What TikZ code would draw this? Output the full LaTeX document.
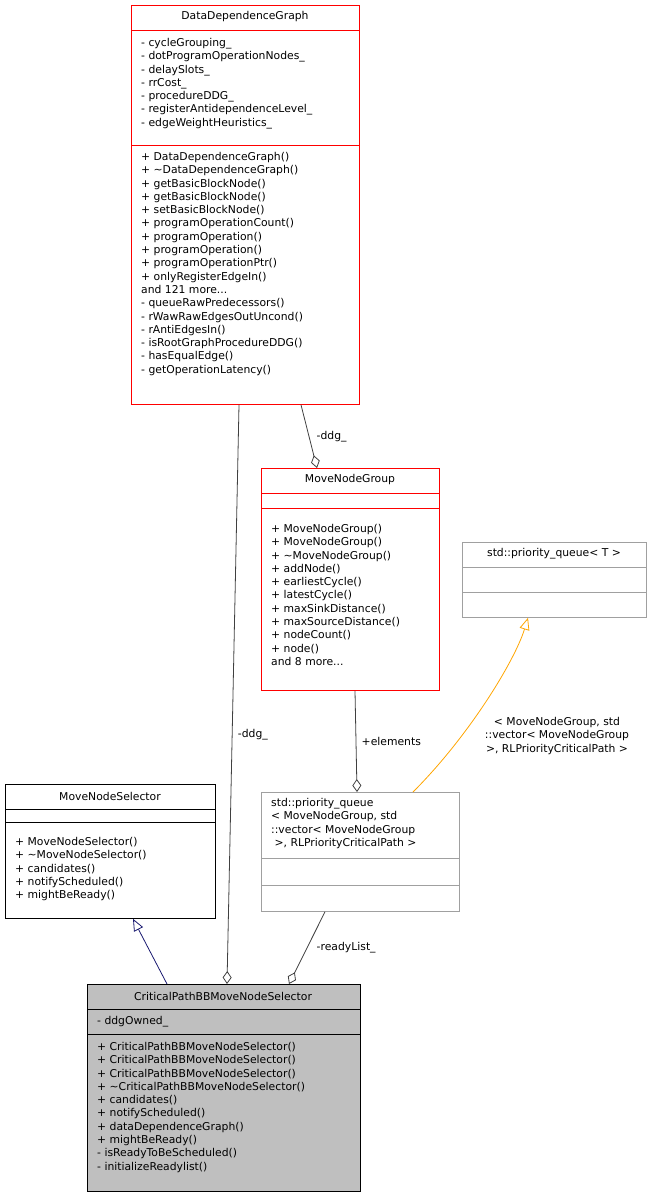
\documentclass[tikz,border=0pt]{standalone}
\usepackage{fontspec}
\setmainfont{DejaVu Sans}
\usetikzlibrary{arrows.meta,positioning,calc}
\definecolor{clsred}{HTML}{FF0000}
\definecolor{clsgray}{HTML}{A0A0A0}
\definecolor{cpgray}{HTML}{BFBFBF}
\definecolor{inhnavy}{HTML}{191970}
\definecolor{tplorange}{HTML}{FFA500}
\definecolor{edgegray}{HTML}{404040}

\begin{document}
\begin{tikzpicture}[
  x=1pt,y=-1pt,
  every node/.style={font=\fontsize{10.8}{13.3}\selectfont},
  box/.style 2 args={
    draw=#1, fill=#2, rectangle, anchor=north west, inner sep=0pt,
    line width=0.8pt},
  txt/.style={anchor=north west, align=left, inner sep=0pt},
  ttl/.style={anchor=center, inner sep=0pt},
  use/.style={draw=edgegray, line width=0.8pt,
    -{Diamond[open,length=13pt,width=9pt]}},
  inh/.style={draw=inhnavy, line width=0.8pt,
    -{Triangle[open,length=12pt,width=10pt]}},
  tpl/.style={draw=tplorange, line width=0.8pt,
    -{Triangle[open,length=12pt,width=10pt]}},
]
  \useasboundingbox (0,0) rectangle (653,1197);

  % DataDependenceGraph
  \node[box={clsred}{white},minimum width=228pt,minimum height=399pt] (ddg) at (131,5) {};
  \draw[clsred,line width=0.8pt] (131,30) -- (359,30) (131,145) -- (359,145);
  \node[ttl] (ddgT) at (245,17) {DataDependenceGraph};
  \node[txt] (ddgA) at (141,38) {- cycleGrouping\_\\- dotProgramOperationNodes\_\\- delaySlots\_\\- rrCost\_\\- procedureDDG\_\\- registerAntidependenceLevel\_\\- edgeWeightHeuristics\_};
  \node[txt] (ddgM) at (141,152) {+ DataDependenceGraph()\\+ \textasciitilde DataDependenceGraph()\\+ getBasicBlockNode()\\+ getBasicBlockNode()\\+ setBasicBlockNode()\\+ programOperationCount()\\+ programOperation()\\+ programOperation()\\+ programOperationPtr()\\+ onlyRegisterEdgeIn()\\and 121 more...\\- queueRawPredecessors()\\- rWawRawEdgesOutUncond()\\- rAntiEdgesIn()\\- isRootGraphProcedureDDG()\\- hasEqualEdge()\\- getOperationLatency()};

  % MoveNodeGroup
  \node[box={clsred}{white},minimum width=178pt,minimum height=222pt] (mng) at (261,468) {};
  \draw[clsred,line width=0.8pt] (261,493) -- (439,493) (261,508) -- (439,508);
  \node[ttl] (mngT) at (350,480) {MoveNodeGroup};
  \node[txt] (mngM) at (271,524) {+ MoveNodeGroup()\\+ MoveNodeGroup()\\+ \textasciitilde MoveNodeGroup()\\+ addNode()\\+ earliestCycle()\\+ latestCycle()\\+ maxSinkDistance()\\+ maxSourceDistance()\\+ nodeCount()\\+ node()\\and 8 more...};

  % std::priority_queue< T >
  \node[box={clsgray}{white},minimum width=184pt,minimum height=75pt] (pqt) at (462,542) {};
  \draw[clsgray,line width=0.8pt] (462,567) -- (646,567) (462,592) -- (646,592);
  \node[ttl] (pqtT) at (554,554) {std::priority\_queue< T >};

  % MoveNodeSelector
  \node[box={black}{white},minimum width=210pt,minimum height=134pt] (mns) at (5,784) {};
  \draw[black,line width=0.8pt] (5,809) -- (215,809) (5,822) -- (215,822);
  \node[ttl] (mnsT) at (110,796) {MoveNodeSelector};
  \node[txt] (mnsM) at (15,837) {+ MoveNodeSelector()\\+ \textasciitilde MoveNodeSelector()\\+ candidates()\\+ notifyScheduled()\\+ mightBeReady()};

  % std::priority_queue instance
  \node[box={clsgray}{white},minimum width=198pt,minimum height=119pt] (pqi) at (261,792) {};
  \draw[clsgray,line width=0.8pt] (261,858) -- (459,858) (261,885) -- (459,885);
  \node[txt] (pqiT) at (271,798) {std::priority\_queue\\< MoveNodeGroup, std\\::vector< MoveNodeGroup\\ \ >, RLPriorityCriticalPath >};

  % CriticalPathBBMoveNodeSelector
  \node[box={black}{cpgray},minimum width=273pt,minimum height=207pt] (cp) at (87,984) {};
  \draw[black,line width=0.8pt] (87,1009) -- (360,1009) (87,1034) -- (360,1034);
  \node[ttl] (cpT) at (223,996) {CriticalPathBBMoveNodeSelector};
  \node[txt] (cpA) at (97,1016) {- ddgOwned\_};
  \node[txt] (cpM) at (97,1042) {+ CriticalPathBBMoveNodeSelector()\\+ CriticalPathBBMoveNodeSelector()\\+ CriticalPathBBMoveNodeSelector()\\+ \textasciitilde CriticalPathBBMoveNodeSelector()\\+ candidates()\\+ notifyScheduled()\\+ dataDependenceGraph()\\+ mightBeReady()\\- isReadyToBeScheduled()\\- initializeReadylist()};

  % connectors
  \draw[use] ([xshift=108pt]ddg.south west) -- ([xshift=140pt]cp.north west) node[pos=0.57,right=2pt] {-ddg\_};
  \draw[use] ([xshift=170pt]ddg.south west) -- ([xshift=56pt]mng.north west) node[midway,right=4pt] {-ddg\_};
  \draw[use] ([xshift=94pt]mng.south west) -- ([xshift=96pt]pqi.north west) node[midway,right=2pt] {+elements};
  \draw[use] ([xshift=64pt]pqi.south west) -- ([xshift=202pt]cp.north west) node[pos=0.5,right=6pt] {-readyList\_};
  \draw[inh] ([xshift=80pt]cp.north west) -- ([xshift=128pt]mns.south west);
  \draw[tpl] ([xshift=152pt]pqi.north west) .. controls (470,735) and (515,660) .. ([xshift=66pt]pqt.south west);
  \node[align=center,inner sep=0pt] (tplL) at (557,736) {< MoveNodeGroup, std\\::vector< MoveNodeGroup\\ >, RLPriorityCriticalPath >};
\end{tikzpicture}
\end{document}
